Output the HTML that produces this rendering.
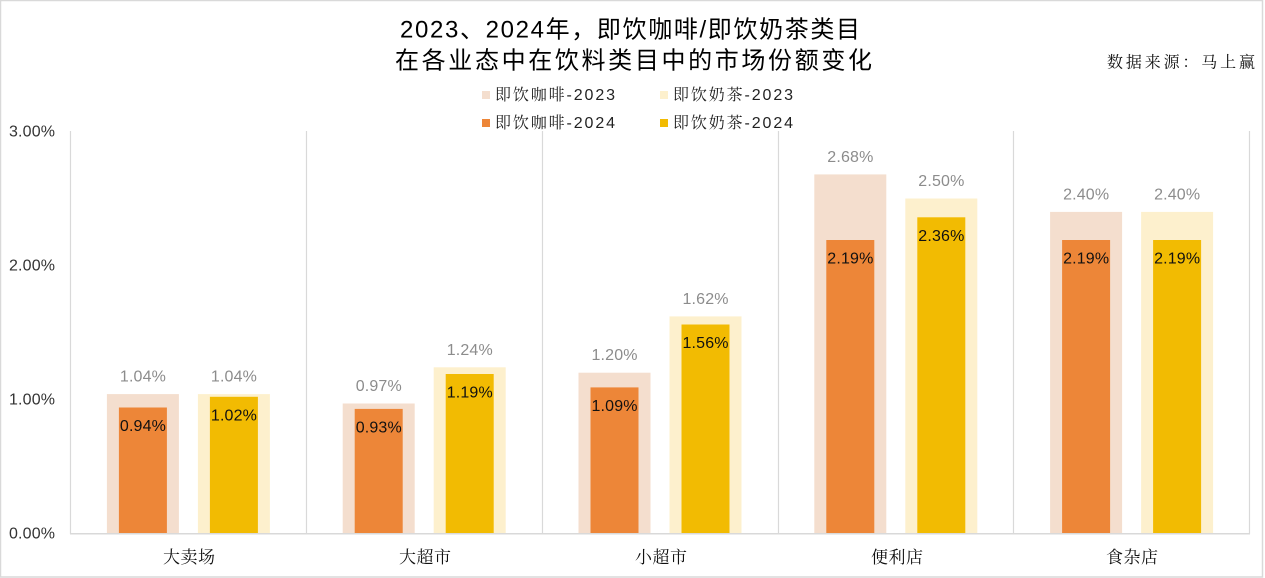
<!DOCTYPE html>
<html>
<head>
<meta charset="utf-8">
<style>
html,body{margin:0;padding:0;background:#fff;}
body{width:1265px;height:578px;overflow:hidden;}
svg{display:block;}
.t{font-family:"Liberation Sans","Noto Sans CJK SC",sans-serif;}
.s{font-family:"Liberation Serif","Noto Serif CJK SC",serif;}
.m{font-family:"Liberation Sans","Noto Serif CJK SC",sans-serif;}
</style>
</head>
<body>
<svg width="1265" height="578" viewBox="0 0 1265 578" xmlns="http://www.w3.org/2000/svg">
<rect x="0.5" y="0.5" width="1262" height="576.5" fill="#fff" stroke="#d9d9d9" stroke-width="1.5"/>

<!-- Title -->
<text class="t" x="630" y="30" font-size="24" fill="#000" text-anchor="middle" dominant-baseline="central" textLength="460" lengthAdjust="spacing">2023、2024年，即饮咖啡/即饮奶茶类目</text>
<text class="t" x="633.5" y="61" font-size="24" fill="#000" text-anchor="middle" dominant-baseline="central" textLength="477" lengthAdjust="spacing">在各业态中在饮料类目中的市场份额变化</text>
<text class="s" x="1181" y="63" font-size="16" fill="#111" text-anchor="middle" dominant-baseline="central" textLength="148" lengthAdjust="spacing">数据来源：马上赢</text>

<!-- Legend -->
<rect x="482" y="91" width="8" height="8" fill="#F4DECE"/>
<text class="m" x="495" y="95.5" font-size="16" fill="#222" dominant-baseline="central" textLength="120" lengthAdjust="spacing">即饮咖啡-2023</text>
<rect x="660" y="91" width="8" height="8" fill="#FDF0CD"/>
<text class="m" x="673" y="95.5" font-size="16" fill="#222" dominant-baseline="central" textLength="120" lengthAdjust="spacing">即饮奶茶-2023</text>
<rect x="482" y="119" width="8" height="8" fill="#ED8638"/>
<text class="m" x="495" y="123.5" font-size="16" fill="#222" dominant-baseline="central" textLength="120" lengthAdjust="spacing">即饮咖啡-2024</text>
<rect x="660" y="119" width="8" height="8" fill="#F2BB02"/>
<text class="m" x="673" y="123.5" font-size="16" fill="#222" dominant-baseline="central" textLength="120" lengthAdjust="spacing">即饮奶茶-2024</text>

<!-- Y axis labels -->
<g class="t" font-size="16" fill="#333" text-anchor="end" dominant-baseline="central">
<text x="55" y="132" textLength="46" lengthAdjust="spacing">3.00%</text>
<text x="55" y="266" textLength="46" lengthAdjust="spacing">2.00%</text>
<text x="55" y="400" textLength="46" lengthAdjust="spacing">1.00%</text>
<text x="55" y="534" textLength="46" lengthAdjust="spacing">0.00%</text>
</g>

<!-- Vertical gridlines -->
<g stroke="#d9d9d9" stroke-width="1.2">
<line x1="70.5" y1="131" x2="70.5" y2="534"/>
<line x1="306.5" y1="131" x2="306.5" y2="534"/>
<line x1="542.5" y1="131" x2="542.5" y2="534"/>
<line x1="778.5" y1="131" x2="778.5" y2="534"/>
<line x1="1013.5" y1="131" x2="1013.5" y2="534"/>
<line x1="1249.5" y1="131" x2="1249.5" y2="534"/>
</g>

<!-- Bars -->
<rect x="106.9" y="394.1" width="72" height="139.4" fill="#F4DECE"/>
<rect x="197.9" y="394.1" width="72" height="139.4" fill="#FDF0CD"/>
<rect x="118.9" y="407.5" width="48" height="126" fill="#ED8638"/>
<rect x="209.9" y="396.8" width="48" height="136.7" fill="#F2BB02"/>
<rect x="342.7" y="403.5" width="72" height="130" fill="#F4DECE"/>
<rect x="433.7" y="367.3" width="72" height="166.2" fill="#FDF0CD"/>
<rect x="354.7" y="408.9" width="48" height="124.6" fill="#ED8638"/>
<rect x="445.7" y="374.0" width="48" height="159.5" fill="#F2BB02"/>
<rect x="578.5" y="372.7" width="72" height="160.8" fill="#F4DECE"/>
<rect x="669.5" y="316.4" width="72" height="217.1" fill="#FDF0CD"/>
<rect x="590.5" y="387.4" width="48" height="146.1" fill="#ED8638"/>
<rect x="681.5" y="324.5" width="48" height="209" fill="#F2BB02"/>
<rect x="814.3" y="174.4" width="72" height="359.1" fill="#F4DECE"/>
<rect x="905.3" y="198.5" width="72" height="335" fill="#FDF0CD"/>
<rect x="826.3" y="240.0" width="48" height="293.5" fill="#ED8638"/>
<rect x="917.3" y="217.3" width="48" height="316.2" fill="#F2BB02"/>
<rect x="1050.1" y="211.9" width="72" height="321.6" fill="#F4DECE"/>
<rect x="1141.1" y="211.9" width="72" height="321.6" fill="#FDF0CD"/>
<rect x="1062.1" y="240.0" width="48" height="293.5" fill="#ED8638"/>
<rect x="1153.1" y="240.0" width="48" height="293.5" fill="#F2BB02"/>

<!-- Baseline -->
<line x1="70" y1="533.8" x2="1250" y2="533.8" stroke="#d9d9d9" stroke-width="1.5"/>

<!-- 2023 labels -->
<g class="t" font-size="16" fill="#8c8c8c" text-anchor="middle" dominant-baseline="central">
<text x="142.9" y="377" textLength="46" lengthAdjust="spacing">1.04%</text>
<text x="233.9" y="377" textLength="46" lengthAdjust="spacing">1.04%</text>
<text x="378.7" y="386.5" textLength="46" lengthAdjust="spacing">0.97%</text>
<text x="469.7" y="350.3" textLength="46" lengthAdjust="spacing">1.24%</text>
<text x="614.5" y="355.7" textLength="46" lengthAdjust="spacing">1.20%</text>
<text x="705.5" y="299.4" textLength="46" lengthAdjust="spacing">1.62%</text>
<text x="850.3" y="157.4" textLength="46" lengthAdjust="spacing">2.68%</text>
<text x="941.3" y="181.5" textLength="46" lengthAdjust="spacing">2.50%</text>
<text x="1086.1" y="194.9" textLength="46" lengthAdjust="spacing">2.40%</text>
<text x="1177.1" y="194.9" textLength="46" lengthAdjust="spacing">2.40%</text>
</g>

<!-- 2024 labels -->
<g class="t" font-size="16" fill="#111" text-anchor="middle" dominant-baseline="central">
<text x="142.9" y="426.5" textLength="46" lengthAdjust="spacing">0.94%</text>
<text x="233.9" y="415.8" textLength="46" lengthAdjust="spacing">1.02%</text>
<text x="378.7" y="427.9" textLength="46" lengthAdjust="spacing">0.93%</text>
<text x="469.7" y="393.0" textLength="46" lengthAdjust="spacing">1.19%</text>
<text x="614.5" y="406.4" textLength="46" lengthAdjust="spacing">1.09%</text>
<text x="705.5" y="343.5" textLength="46" lengthAdjust="spacing">1.56%</text>
<text x="850.3" y="259.0" textLength="46" lengthAdjust="spacing">2.19%</text>
<text x="941.3" y="236.3" textLength="46" lengthAdjust="spacing">2.36%</text>
<text x="1086.1" y="259.0" textLength="46" lengthAdjust="spacing">2.19%</text>
<text x="1177.1" y="259.0" textLength="46" lengthAdjust="spacing">2.19%</text>
</g>

<!-- X axis labels -->
<g class="s" font-size="17" fill="#111" text-anchor="middle" dominant-baseline="central">
<text x="189" y="557.5" textLength="52" lengthAdjust="spacing">大卖场</text>
<text x="425" y="557.5" textLength="52" lengthAdjust="spacing">大超市</text>
<text x="661" y="557.5" textLength="52" lengthAdjust="spacing">小超市</text>
<text x="897" y="557.5" textLength="52" lengthAdjust="spacing">便利店</text>
<text x="1132" y="557.5" textLength="52" lengthAdjust="spacing">食杂店</text>
</g>
</svg>
</body>
</html>
